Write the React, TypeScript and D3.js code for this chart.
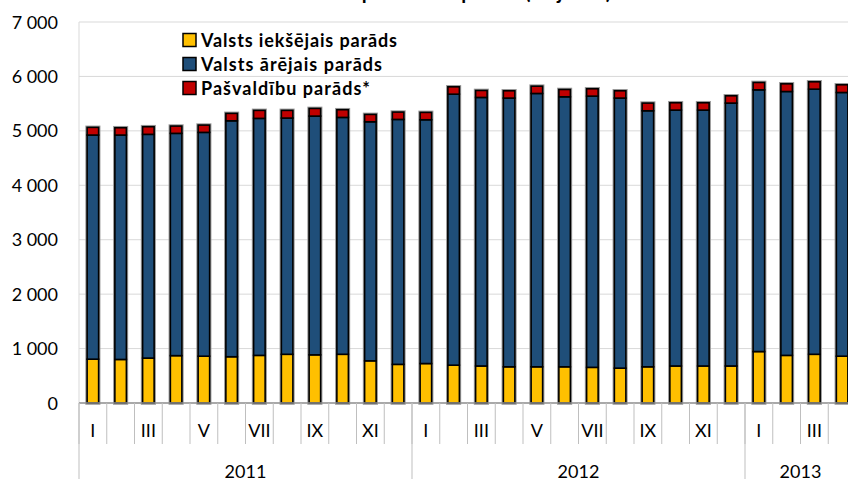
import * as d3 from 'd3'
import { useEffect } from 'react'

// monthly debt, milj. latu
const years = ['2011', '2012', '2013']
const monthsPerYear = [12, 12, 4]
const monthLabels = ['I', '', 'III', '', 'V', '', 'VII', '', 'IX', '', 'XI', '']
const yTicks = [0, 1000, 2000, 3000, 4000, 5000, 6000, 7000]

const domestic = [
  805, 800, 825, 870, 860, 850, 875, 895, 885, 895, 775, 710,
  725, 695, 680, 665, 665, 665, 655, 640, 665, 680, 680, 680,
  945, 875, 895, 860,
]
const external = [
  4118, 4123, 4111, 4084, 4112, 4335, 4354, 4340, 4386, 4352, 4392, 4500,
  4479, 4979, 4934, 4937, 5022, 4961, 4983, 4962, 4704, 4701, 4701, 4830,
  4809, 4848, 4871, 4845,
]
const municipal = [
  141, 134, 140, 134, 134, 136, 147, 141, 141, 141, 135, 135,
  135, 135, 128, 134, 134, 134, 135, 134, 141, 135, 135, 134,
  135, 141, 135, 141,
]

const seriesNames = ['Valsts iekšējais parāds', 'Valsts ārējais parāds', 'Pašvaldību parāds*']
const colors = ['#FFC000', '#1F4E79', '#C00000']
const legendWidths = [196, 181, 169]

const W = 848
const H = 479
const font = 'Lato, Calibri, sans-serif'

export default function App() {
  useEffect(() => {
    document.body.style.margin = '0'
  }, [])

  const keys: string[] = []
  years.forEach((yr, yi) => {
    for (let m = 0; m < monthsPerYear[yi]; m++) keys.push(`${yr}-${m}`)
  })

  const rows = keys.map((k, i) => ({ key: k, d: domestic[i], e: external[i], m: municipal[i] }))
  const stacked = d3.stack<any>().keys(['d', 'e', 'm'])(rows)

  const step = 27.75
  const x0 = 79
  const x = d3
    .scaleBand()
    .domain(keys)
    .range([x0, x0 + keys.length * step])
    .paddingInner(0.585)
    .paddingOuter(0.2925)
  const y = d3.scaleLinear().domain([0, 7000]).range([403, 22])

  // year groups
  let start = 0
  const groups = years.map((yr, yi) => {
    const g = { yr, from: start, to: start + monthsPerYear[yi] }
    start += monthsPerYear[yi]
    return g
  })
  const edge = (i: number) => x0 + i * x.step()

  return (
    <svg width={W} height={H} style={{ display: 'block' }} fontFamily={font}>
      <rect width={W} height={H} fill="#fff" />
      <text x={444} y={-1} textAnchor="middle" fontSize={20} fontWeight="bold">
        Valsts un pašvaldību parāds (milj. latu)
      </text>

      {/* gridlines */}
      {yTicks.map((t) => (
        <g key={t}>
          {t > 0 && <line x1={x0} x2={W} y1={y(t)} y2={y(t)} stroke="#d9d9d9" strokeWidth={1} />}
          <text x={58} y={y(t) + 6.5} textAnchor="end" fontSize={18} fill="#000">
            {d3.format(',')(t).replace(/,/g, ' ')}
          </text>
        </g>
      ))}
      <line x1={x0} x2={x0} y1={y(7000)} y2={403} stroke="#d9d9d9" />

      {/* bars */}
      {keys.map((k, i) => (
        <g key={k}>
          <rect
            x={x(k)}
            y={y(stacked[2][i][1])}
            width={x.bandwidth()}
            height={y(0) - y(stacked[2][i][1])}
            fill="none"
            stroke="#9a9a9a"
            strokeWidth={3.6}
          />
          {stacked.map((s, si) => (
            <rect
              key={si}
              x={x(k)}
              y={y(s[i][1])}
              width={x.bandwidth()}
              height={y(s[i][0]) - y(s[i][1])}
              fill={colors[si]}
              stroke="#000"
              strokeWidth={1.6}
            />
          ))}
        </g>
      ))}

      {/* category axis */}
      <line x1={x0} x2={W} y1={403} y2={403} stroke="#8c8c8c" strokeWidth={1.5} />
      {keys.map((k, i) => (
        <line key={'t' + k} x1={edge(i)} x2={edge(i)} y1={403} y2={444} stroke="#bfbfbf" />
      ))}
      {groups.map((g) => (
        <line key={'g' + g.yr} x1={edge(g.from)} x2={edge(g.from)} y1={403} y2={H} stroke="#bfbfbf" />
      ))}
      {keys.map((k, i) => {
        const m = i - groups.find((g) => i >= g.from && i < g.to)!.from
        return (
          <text key={'l' + k} x={x(k)! + x.bandwidth() / 2} y={437} textAnchor="middle" fontSize={18}>
            {monthLabels[m]}
          </text>
        )
      })}
      {groups.map((g) => (
        <text key={'y' + g.yr} x={(edge(g.from) + edge(g.to)) / 2} y={478} textAnchor="middle" fontSize={18}>
          {g.yr}
        </text>
      ))}

      {/* legend */}
      {seriesNames.map((n, i) => (
        <g key={n} transform={`translate(183,${40 + i * 24})`}>
          <rect x={0} y={-6.5} width={13} height={13} fill={colors[i]} stroke="#000" strokeWidth={1.5} />
          <text x={18} y={6.5} fontSize={18} fontWeight="bold" textLength={legendWidths[i]} lengthAdjust="spacing">
            {n}
          </text>
        </g>
      ))}
    </svg>
  )
}
